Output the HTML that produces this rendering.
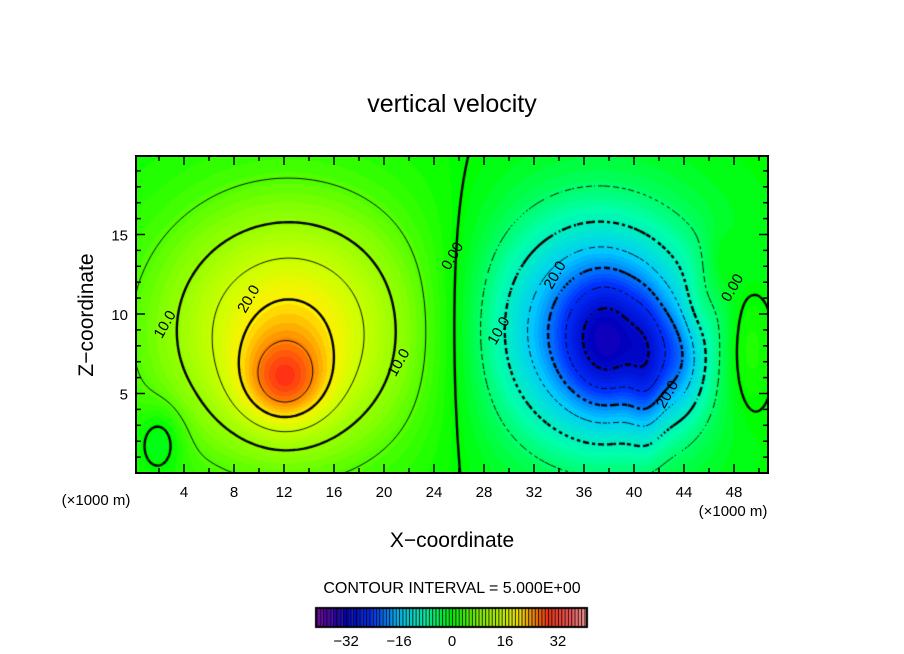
<!DOCTYPE html>
<html><head><meta charset="utf-8"><style>
body{margin:0;background:#fff;width:904px;height:654px;overflow:hidden;font-family:"Liberation Sans",sans-serif}
#wrap{position:relative;width:904px;height:654px}
canvas,svg{position:absolute;left:0;top:0}
</style></head><body>
<div id="wrap">
<canvas id="cv" width="904" height="654"></canvas>
<svg id="sv" width="904" height="654">
<text x="452" y="112" text-anchor="middle" font-size="25">vertical velocity</text>
<text x="452" y="547" text-anchor="middle" font-size="21">X−coordinate</text>
<text transform="translate(93,315) rotate(-90)" text-anchor="middle" font-size="21">Z−coordinate</text>
<text x="96" y="505" text-anchor="middle" font-size="15">(×1000 m)</text>
<text x="733" y="516" text-anchor="middle" font-size="15">(×1000 m)</text>
<text x="452" y="593" text-anchor="middle" font-size="16">CONTOUR INTERVAL = 5.000E+00</text>
<g id="axes"></g>
</svg>
</div>
<script>
// field data (Gaussian components, km units)
const blobX   = [12.5, 12,  37,  38,  41,  43.5, 45,   47,   49,   2.2, 10];
const blobZ   = [8.8,  5.5, 9,   8,   6,   7,    10.5, 13,   8,    2.2, 12];
const blobAmp = [20,   11, -23, -11, -6,  -8,    3,    3,    5,   -5,   1.2];
const blobSx  = [7.2,  2.5, 6.2, 2.5, 1.0, 1.5,  1.0,  1.0,  1.5,  1.3, 12];
const blobSz  = [5.5,  2.0, 5.2, 3,   3,   2.5,  1.6,  1.6,  3,    1.5, 8];
const xTicks = [4,8,12,16,20,24,28,32,36,40,44,48];
const yTicks = [5,10,15];
const cbTicks = [-32,-16,0,16,32];
const levels = [-30,-25,-20,-15,-10,-5,0,5,10,15,20,25,30];
const contourLabels = [[2.8,9.2,"10.0"],[21.5,6.8,"10.0"],[9.5,10.8,"20.0"],[25.8,13.5,"0.00"],[29.5,8.8,"10.0"],[34,12.3,"20.0"],[43,4.8,"20.0"],[48.2,11.5,"0.00"]];

const X0=134,SX=12.5,Y0=473,SY=15.9;
const PL=136,PR=768,PT=156,PB=473;
const px=x=>X0+x*SX, py=z=>Y0-z*SY;
const ux=p=>(p-X0)/SX, uz=p=>(Y0-p)/SY;
function field(x,z){let v=0;for(let i=0;i<blobX.length;i++){const dx=(x-blobX[i])/blobSx[i],dz=(z-blobZ[i])/blobSz[i];v+=blobAmp[i]*Math.exp(-0.5*(dx*dx+dz*dz));}return v;}
const stops=[[-40,[110,0,170]],[-32,[0,0,190]],[-24,[0,50,255]],[-16,[0,200,255]],[-8,[0,255,170]],[0,[0,255,0]],[8,[130,255,0]],[16,[210,255,0]],[20,[255,240,0]],[25,[255,130,0]],[29,[255,50,20]],[36,[255,90,90]],[41,[255,170,170]]];
function color(v){v=Math.max(-40,Math.min(41,v));for(let i=0;i<stops.length-1;i++){const a=stops[i],b=stops[i+1];if(v<=b[0]){const t=(v-a[0])/(b[0]-a[0]);return a[1].map((c,k)=>Math.round(c+(b[1][k]-c)*t));}}return stops[stops.length-1][1];}
const cv=document.getElementById('cv'),ctx=cv.getContext('2d');
const img=ctx.createImageData(PR-PL,PB-PT);
for(let j=0;j<PB-PT;j++)for(let i=0;i<PR-PL;i++){const v=Math.round(field(ux(PL+i+0.5),uz(PT+j+0.5)));const c=color(v);const o=(j*(PR-PL)+i)*4;img.data[o]=c[0];img.data[o+1]=c[1];img.data[o+2]=c[2];img.data[o+3]=255;}
ctx.putImageData(img,PL,PT);
// contours via marching squares
const G=3,nx=Math.ceil((PR-PL)/G),nz=Math.ceil((PB-PT)/G);
const F=[];for(let j=0;j<=nz;j++){F[j]=[];for(let i=0;i<=nx;i++)F[j][i]=field(ux(PL+i*G),uz(PT+j*G));}
ctx.save();ctx.beginPath();ctx.rect(PL,PT,PR-PL,PB-PT);ctx.clip();
levels.forEach(L=>{
 ctx.beginPath();
 for(let j=0;j<nz;j++)for(let i=0;i<nx;i++){
  const c=[[i,j,F[j][i]],[i+1,j,F[j][i+1]],[i+1,j+1,F[j+1][i+1]],[i,j+1,F[j+1][i]]];const pts=[];
  for(let k=0;k<4;k++){const a=c[k],b=c[(k+1)%4];if((a[2]>L)!==(b[2]>L)){const t=(L-a[2])/(b[2]-a[2]);pts.push([PL+(a[0]+(b[0]-a[0])*t)*G,PT+(a[1]+(b[1]-a[1])*t)*G]);}}
  if(pts.length>=2){
   if(L<0 && ((i+j)%3===0)) continue; // gaps to emulate dashes
   ctx.moveTo(pts[0][0],pts[0][1]);ctx.lineTo(pts[1][0],pts[1][1]);}
  if(pts.length===4){ctx.moveTo(pts[2][0],pts[2][1]);ctx.lineTo(pts[3][0],pts[3][1]);}
 }
 ctx.lineWidth=(L%10===0)?2.4:0.9;ctx.strokeStyle='#000';ctx.stroke();
});
ctx.restore();
// colorbar
const CB0=452,CBS=3.31,cbL=316,cbR=587,cbT=608,cbB=627;
for(let v=-41;v<41;v++){ctx.fillStyle='rgb('+color(v+0.5).join(',')+')';ctx.fillRect(CB0+v*CBS,cbT,CBS,cbB-cbT);ctx.fillStyle='#000';ctx.fillRect(CB0+v*CBS,cbT,1,cbB-cbT);}
ctx.strokeStyle='#000';ctx.lineWidth=2;ctx.strokeRect(cbL,cbT,cbR-cbL,cbB-cbT);
// svg axes
const ns='http://www.w3.org/2000/svg',ax=document.getElementById('axes');
function mk(t,a,txt){const e=document.createElementNS(ns,t);for(const k in a)e.setAttribute(k,a[k]);if(txt!==undefined)e.textContent=txt;ax.appendChild(e);return e;}
const fr=mk('rect',{x:PL,y:PT,width:PR-PL,height:PB-PT,fill:'none',stroke:'#000','stroke-width':2});


for(let x=2;x<=50;x+=2){const len=(x%4===0)?9:5;
 const t1=mk('line',{x1:px(x),x2:px(x),y1:PB,y2:PB-len,stroke:'#000','stroke-width':1.5});
 const t2=mk('line',{x1:px(x),x2:px(x),y1:PT,y2:PT+len,stroke:'#000','stroke-width':1.5});}
for(let z=1;z<=19;z++){const len=(z%5===0)?9:5;
 const t1=mk('line',{x1:PL,x2:PL+len,y1:py(z),y2:py(z),stroke:'#000','stroke-width':1.5});
 const t2=mk('line',{x1:PR,x2:PR-len,y1:py(z),y2:py(z),stroke:'#000','stroke-width':1.5});}
xTicks.forEach(x=>{const e=mk('text',{x:px(x),y:497,'text-anchor':'middle','font-size':15},String(x));});
yTicks.forEach(z=>{const e=mk('text',{x:128,y:py(z)+6,'text-anchor':'end','font-size':15},String(z));});
cbTicks.forEach(v=>{const e=mk('text',{x:CB0+v*CBS,y:646,'text-anchor':'middle','font-size':15},(v<0?'−':'')+Math.abs(v));});
contourLabels.forEach(l=>{const e=mk('text',{x:px(l[0]),y:py(l[1]),'text-anchor':'middle','font-size':15,transform:'rotate(-60 '+px(l[0])+' '+py(l[1])+')'},l[2]);});
</script>
</body></html>
